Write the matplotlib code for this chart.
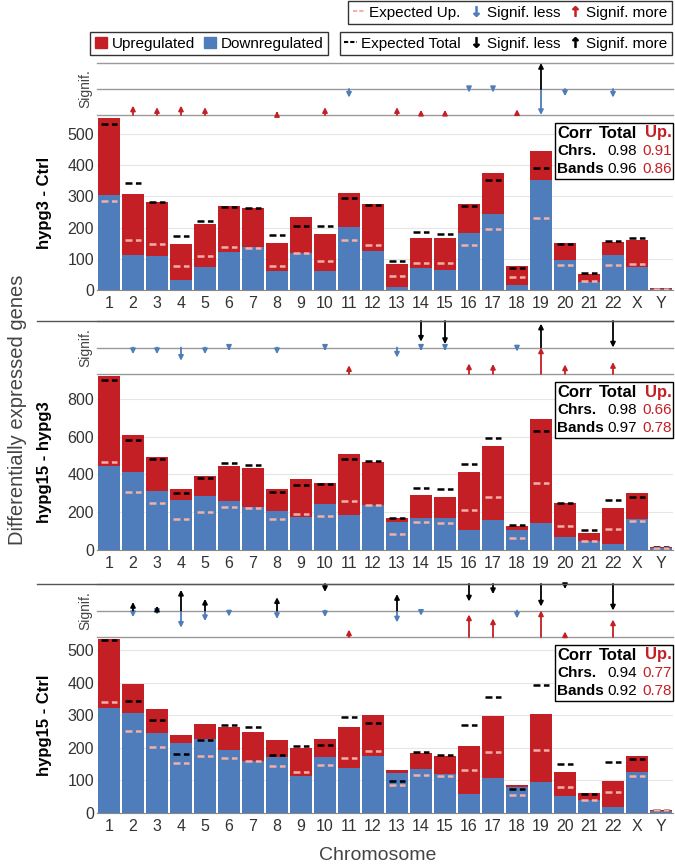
import matplotlib
matplotlib.use('Agg')
from matplotlib import pyplot as plt
from matplotlib.lines import Line2D
from matplotlib.patches import Patch, Rectangle
import numpy as np

plt.rcParams['font.family'] = ['Liberation Sans', 'DejaVu Sans']
plt.rcParams['lines.scale_dashes'] = False

RED = '#c41f24'
BLUE = '#4f7cba'
PINK = '#f2b0a8'
GRAY = '#444444'

chroms = [str(i) for i in range(1, 23)] + ['X', 'Y']

# panel titles and correlation tables
panel_names = ['hypg3 - Ctrl', 'hypg15 - hypg3', 'hypg15 - Ctrl']
corr_total = [(0.98, 0.96), (0.98, 0.97), (0.94, 0.92)]
corr_up = [(0.91, 0.86), (0.66, 0.78), (0.77, 0.78)]

# hypg3 - Ctrl
total1 = [552, 308, 283, 147, 211, 268, 261, 149, 233, 179, 312, 276, 82, 168, 165, 275, 376, 78, 444, 151, 52, 155, 161, 6]
down1 = [304, 113, 108, 33, 75, 122, 138, 61, 119, 61, 203, 126, 11, 70, 65, 183, 244, 15, 352, 97, 25, 111, 75, 2]
exp_total1 = [530, 342, 283, 174, 220, 267, 263, 176, 204, 205, 294, 273, 92, 186, 179, 268, 351, 72, 391, 146, 55, 156, 165, 4]
exp_up1 = [285, 159, 146, 76, 109, 139, 135, 78, 120, 92, 161, 143, 44, 86, 85, 143, 194, 41, 229, 79, 28, 80, 82, 3]

# hypg15 - hypg3
total2 = [919, 610, 493, 322, 392, 443, 433, 322, 376, 355, 509, 468, 168, 292, 281, 412, 548, 127, 694, 249, 90, 223, 299, 18]
down2 = [445, 412, 313, 265, 286, 260, 228, 207, 177, 242, 186, 239, 147, 170, 170, 104, 161, 104, 143, 71, 48, 34, 164, 9]
exp_total2 = [898, 581, 484, 299, 383, 461, 447, 306, 343, 348, 479, 472, 170, 330, 323, 454, 594, 134, 631, 246, 104, 265, 283, 16]
exp_up2 = [468, 309, 251, 164, 200, 226, 221, 164, 191, 182, 260, 240, 85, 148, 143, 210, 281, 64, 353, 129, 46, 111, 152, 12]

# hypg15 - Ctrl
total3 = [535, 398, 319, 240, 274, 265, 248, 225, 199, 228, 263, 300, 133, 184, 174, 205, 297, 87, 304, 125, 61, 98, 176, 10]
down3 = [323, 306, 245, 216, 227, 195, 160, 173, 115, 173, 138, 176, 122, 135, 121, 58, 108, 81, 94, 51, 39, 18, 125, 6]
exp_total3 = [533, 345, 286, 180, 223, 269, 263, 179, 207, 208, 296, 276, 97, 189, 177, 270, 357, 73, 393, 150, 57, 158, 166, 8]
exp_up3 = [340, 253, 203, 154, 174, 169, 159, 144, 127, 147, 168, 192, 85, 118, 113, 131, 189, 56, 194, 80, 41, 64, 113, 8]

# significance arrow lengths (fraction of half strip), 0 = none
#             1    2    3    4    5    6    7    8    9    10   11   12   13   14   15   16   17   18   19   20   21   22   X  Y
red_more1 = [0, .36, .3, .36, .3, 0, 0, .15, 0, .3, 0, 0, .3, .2, .2, 0, 0, .22, 0, 0, 0, 0, 0, 0]
blue_less1 = [0, 0, 0, 0, 0, 0, 0, 0, 0, 0, .33, 0, 0, 0, 0, .12, .12, 0, 1.0, .28, 0, .33, 0, 0]
blk_more1 = [0, 0, 0, 0, 0, 0, 0, 0, 0, 0, 0, 0, 0, 0, 0, 0, 0, 0, 1.0, 0, 0, 0, 0, 0]
blk_less1 = [0] * 24

red_more2 = [0, 0, 0, 0, 0, 0, 0, 0, 0, 0, .33, 0, 0, 0, 0, .4, .38, 0, 1.0, .36, 0, .45, 0, 0]
blue_less2 = [0, .25, .25, .5, .25, .12, 0, .25, 0, .12, 0, 0, .38, .12, .12, 0, 0, .15, 0, 0, 0, 0, 0, 0]
blk_more2 = [0, 0, 0, 0, 0, 0, 0, 0, 0, 0, 0, 0, 0, 0, 0, 0, 0, 0, .9, 0, 0, 0, 0, 0]
blk_less2 = [0, 0, 0, 0, 0, 0, 0, 0, 0, 0, 0, 0, 0, .78, .87, 0, 0, 0, 0, 0, 0, 1.0, 0, 0]

red_more3 = [0, 0, 0, 0, 0, 0, 0, 0, 0, 0, .28, 0, 0, 0, 0, .85, .7, 0, 1.0, .21, 0, .66, 0, 0]
blue_less3 = [0, .25, .16, .65, .4, .23, 0, .32, 0, .25, 0, 0, .45, .2, 0, 0, 0, .3, 0, 0, 0, 0, 0, 0]
blk_more3 = [0, .32, .18, .78, .44, 0, 0, .5, 0, 0, 0, 0, .62, 0, 0, 0, 0, 0, 0, 0, 0, 0, 0, 0]
blk_less3 = [0, 0, 0, 0, 0, 0, 0, 0, 0, .3, 0, 0, 0, 0, 0, .66, .38, 0, .85, .19, 0, 1.0, 0, 0]

panels = [
    (total1, down1, exp_total1, exp_up1, red_more1, blue_less1, blk_more1, blk_less1, 560, 100),
    (total2, down2, exp_total2, exp_up2, red_more2, blue_less2, blk_more2, blk_less2, 931, 200),
    (total3, down3, exp_total3, exp_up3, red_more3, blue_less3, blk_more3, blk_less3, 541, 100),
]

# pixel layout (top of strip, strip/main border, main bottom)
layout = [(63, 115, 290), (321, 374, 550), (584, 637, 813)]
X0, X1 = 97, 673
W, H = 675, 866


def fpos(x0, y0, x1, y1):
    return [x0 / W, 1 - y1 / H, (x1 - x0) / W, (y1 - y0) / H]


def px(xp, yp):
    return xp / W, 1 - yp / H


fig = plt.figure(figsize=(6.75, 8.66), dpi=100)
x = np.arange(len(chroms))


def arrow(ax, xi, y0, y1, color):
    ax.annotate('', xy=(xi, y1), xytext=(xi, y0),
                arrowprops=dict(arrowstyle='-|>', color=color, lw=1.3,
                                mutation_scale=7, shrinkA=0, shrinkB=0))


for p, (tot, dn, et, eu, rm, bl, km, kl, ymax, ystep) in enumerate(panels):
    ys, ym, yb = layout[p]

    # main bar chart
    ax = fig.add_axes(fpos(X0, ym, X1, yb))
    up = np.array(tot) - np.array(dn)
    ax.bar(x, dn, width=0.9, color=BLUE, zorder=2)
    ax.bar(x, up, bottom=dn, width=0.9, color=RED, zorder=2)
    ax.hlines(et, x - 0.34, x + 0.34, colors='black', lw=1.8,
              linestyles=(0, (5, 2.5)), zorder=3)
    ax.hlines(eu, x - 0.34, x + 0.34, colors=PINK, lw=1.8,
              linestyles=(0, (5, 2.5)), zorder=3)
    ax.set_xlim(-0.5, 23.5)
    ax.set_ylim(0, ymax)
    ax.set_yticks(np.arange(0, ymax, ystep))
    ax.set_xticks(x)
    ax.set_xticklabels(chroms)
    ax.tick_params(length=0, labelsize=11.5, colors='#333333', pad=4)
    ax.tick_params(axis='y', pad=2)
    ax.grid(axis='y', color='#e6e6e6', lw=0.8, zorder=0)
    for s in ('top', 'right', 'left'):
        ax.spines[s].set_visible(False)
    ax.spines['bottom'].set_color('#888888')

    # significance strip, drawn above the bars' axes
    sx = fig.add_axes(fpos(X0, ys, X1, ym))
    sx.set_zorder(ax.get_zorder() + 1)
    sx.set_xlim(-0.5, 23.5)
    sx.set_ylim(0, 2)
    sx.axis('off')
    for yy in (0, 1, 2):
        sx.axhline(yy, color='#999999', lw=1.0, clip_on=False)
    if p > 0:
        fig.add_artist(Line2D([37 / W, X1 / W], [1 - ys / H, 1 - ys / H],
                              color='#555555', lw=1.0))
    for i in range(len(chroms)):
        if rm[i]:
            arrow(sx, i, 0, rm[i], RED)
        if bl[i]:
            arrow(sx, i, 1, 1 - bl[i], BLUE)
        if km[i]:
            arrow(sx, i, 1, 1 + km[i], 'black')
        if kl[i]:
            arrow(sx, i, 2, 2 - kl[i], 'black')
    fig.text(*px(85, (ys + ym) / 2), 'Signif.', rotation=90,
             ha='center', va='center', fontsize=10, color=GRAY)

    fig.text(*px(45, (ym + yb) / 2), panel_names[p], rotation=90,
             ha='center', va='center', fontsize=12, fontweight='bold')

    # correlation table
    bx0, bx1 = 555, 673
    by0 = ym + 8
    fig.add_artist(Rectangle(px(bx0, by0 + 56), (bx1 - bx0) / W, 56 / H,
                             transform=fig.transFigure, facecolor='white',
                             edgecolor='black', lw=1.0, zorder=5))
    rows = [('Corr', 'Total', 'Up.'),
            ('Chrs.', '%.2f' % corr_total[p][0], '%.2f' % corr_up[p][0]),
            ('Bands', '%.2f' % corr_total[p][1], '%.2f' % corr_up[p][1])]
    for r, (a, b, c) in enumerate(rows):
        yy = by0 + 10 + r * 18
        head = r == 0
        fs = 12 if head else 11
        wb = 'bold' if head else 'normal'
        fig.text(*px(bx0 + 2, yy), a, ha='left', va='center', fontsize=fs,
                 fontweight='bold', zorder=6)
        fig.text(*px(637, yy), b, ha='right', va='center', fontsize=fs,
                 fontweight=wb, zorder=6)
        fig.text(*px(672, yy), c, ha='right', va='center', fontsize=fs,
                 fontweight=wb, color=RED, zorder=6)

fig.text(*px(18, 410), 'Differentially expressed genes', rotation=90,
         ha='center', va='center', fontsize=14.5, color=GRAY)
fig.text(*px(378, 855), 'Chromosome', ha='center', va='center',
         fontsize=14, color=GRAY)

# legends
lkw = dict(frameon=True, fancybox=False, edgecolor='black',
           prop=dict(size=11), handletextpad=0.3, columnspacing=0.6,
           borderpad=0.3, borderaxespad=0)
leg_a = [Patch(color=RED), Patch(color=BLUE)]
l1 = fig.legend(leg_a, ['Upregulated', 'Downregulated'], ncol=2,
                loc='upper left', bbox_to_anchor=px(90, 32),
                handlelength=0.8, handleheight=0.8, **lkw)
leg_b = [Line2D([], [], color=PINK, ls=(0, (3, 1.5)), lw=1.5),
         Line2D([], [], color=BLUE, ls='none', marker=r'$\downarrow$', markersize=7),
         Line2D([], [], color=RED, ls='none', marker=r'$\uparrow$', markersize=7)]
l2 = fig.legend(leg_b, ['Expected Up.', 'Signif. less', 'Signif. more'], ncol=3,
                loc='upper right', bbox_to_anchor=px(672, 1),
                handlelength=0.8, **lkw)
leg_c = [Line2D([], [], color='black', ls=(0, (3, 1.5)), lw=1.5),
         Line2D([], [], color='black', ls='none', marker=r'$\downarrow$', markersize=7),
         Line2D([], [], color='black', ls='none', marker=r'$\uparrow$', markersize=7)]
l3 = fig.legend(leg_c, ['Expected Total', 'Signif. less', 'Signif. more'], ncol=3,
                loc='upper right', bbox_to_anchor=px(672, 32),
                handlelength=0.8, **lkw)
for lg in (l1, l2, l3):
    lg.get_frame().set_linewidth(1.0)

fig.savefig('out.png', dpi=100)
